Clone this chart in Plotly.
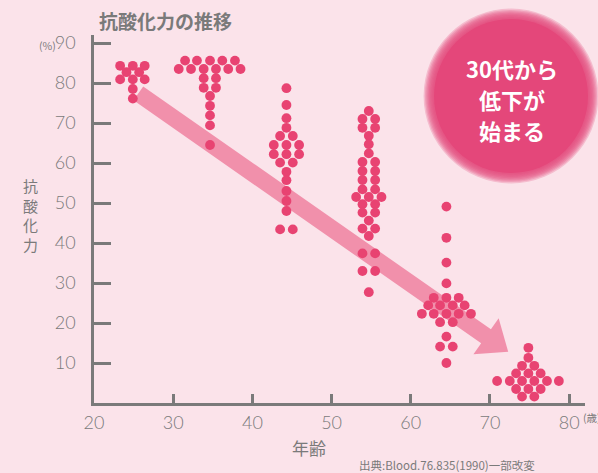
import math
import plotly.graph_objects as go

# ---------------- data (age, antioxidant capacity %) ----------------
age20s_x = [23.3, 24.9, 26.4, 24.1, 25.7, 23.3, 24.9, 26.4, 24.9, 24.9]
age20s_y = [84.3, 84.3, 84.3, 82.7, 82.7, 80.9, 80.9, 80.9, 78.5, 76.1]

age30s_x = [31.5, 33.0, 34.65, 36.2, 37.8,
            30.7, 32.25, 33.85, 35.4, 36.95, 38.5,
            33.85, 35.4, 33.85, 35.4,
            34.65, 34.65, 34.65, 34.65, 34.65]
age30s_y = [85.6, 85.6, 85.6, 85.6, 85.6,
            83.5, 83.5, 83.5, 83.5, 83.5, 83.5,
            81.2, 81.2, 78.8, 78.8,
            76.75, 74.3, 71.9, 69.4, 64.5]

age40s_x = [44.3, 44.3, 44.3, 44.3,
            43.5, 45.1,
            42.7, 44.3, 45.9,
            42.7, 44.3, 45.9,
            43.5, 45.1,
            44.3, 44.3, 44.3, 44.3, 44.3,
            43.5, 45.1]
age40s_y = [78.7, 74.5, 71.2, 68.8,
            66.75, 66.75,
            64.5, 64.5, 64.5,
            62.2, 62.2, 62.2,
            60.1, 60.1,
            57.8, 55.7, 53.0, 50.5, 48.0,
            43.4, 43.4]

age50s_x = [54.7, 53.9, 55.5, 53.9, 55.5, 54.7, 54.7, 54.7,
            53.9, 55.5, 53.9, 55.5, 53.9, 55.5, 53.9, 55.5,
            53.1, 54.7, 56.3,
            53.9, 55.5, 53.9, 55.5, 54.7, 53.9, 55.5, 54.7,
            53.9, 55.5, 53.9, 55.5, 54.7]
age50s_y = [73.0, 71.0, 71.0, 68.8, 68.8, 66.8, 64.7, 62.4,
            60.25, 60.25, 58.0, 58.0, 55.75, 55.75, 53.4, 53.4,
            51.5, 51.5, 51.5,
            49.7, 49.7, 47.6, 47.6, 45.6, 43.6, 43.6, 41.75,
            37.4, 37.4, 33.0, 33.0, 27.7]

age60s_x = [64.5, 64.5, 64.5, 64.5,
            62.9, 64.5, 66.05,
            62.2, 63.7, 65.3, 66.8,
            61.4, 62.9, 64.5, 66.05, 67.6,
            63.7, 65.3,
            64.5, 63.7, 65.3, 64.5]
age60s_y = [49.1, 41.3, 35.1, 29.9,
            26.3, 26.3, 26.3,
            24.4, 24.4, 24.4, 24.4,
            22.3, 22.3, 22.3, 22.3, 22.3,
            20.2, 20.2,
            16.6, 14.1, 14.1, 10.0]

age70s_x = [74.85, 74.85, 74.05, 75.6,
            73.3, 74.85, 76.4,
            70.9, 72.5, 74.05, 75.6, 77.2, 78.7,
            73.3, 74.85, 76.4,
            74.05, 75.6]
age70s_y = [13.8, 11.3, 9.3, 9.3,
            7.4, 7.4, 7.4,
            5.5, 5.5, 5.5, 5.5, 5.5, 5.5,
            3.5, 3.5, 3.5,
            1.6, 1.6]

x_ticks = [20, 30, 40, 50, 60, 70, 80]
y_ticks = [10, 20, 30, 40, 50, 60, 70, 80, 90]

# trend arrow (age, %)
arrow_start = (25.6, 77.4)
arrow_end = (72.3, 12.8)

# ---------------- style ----------------
W, H = 598, 473
ML, MR, MT, MB = 94, 13, 35, 70
X_RANGE = [20, 82]
Y_RANGE = [0, 92]
BG = "#fbe3ea"
DOT = "#e84372"
GRAY = "#7a7a7a"
CJK = "Noto Sans CJK JP"
NUM = "Lato, Noto Sans, sans-serif"

pw = W - ML - MR
ph = H - MT - MB
xs = pw / (X_RANGE[1] - X_RANGE[0])
ys = ph / (Y_RANGE[1] - Y_RANGE[0])


def px2paper(px, py):
    return (px - ML) / pw, (H - MB - py) / ph


fig = go.Figure()
for gx, gy in [(age20s_x, age20s_y), (age30s_x, age30s_y), (age40s_x, age40s_y),
               (age50s_x, age50s_y), (age60s_x, age60s_y), (age70s_x, age70s_y)]:
    fig.add_trace(go.Scatter(x=gx, y=gy, mode="markers", cliponaxis=False,
                             marker=dict(size=9.8, color=DOT, line=dict(width=0)),
                             hoverinfo="x+y", showlegend=False))

# arrow polygon computed in pixel space, expressed in data units
sx, sy = arrow_start[0] * xs, arrow_start[1] * ys
tx, ty = arrow_end[0] * xs, arrow_end[1] * ys
L = math.hypot(tx - sx, ty - sy)
dx, dy = (tx - sx) / L, (ty - sy) / L
nx, ny = -dy, dx
hw, HW, HL = 8.5, 22.0, 27.0
hx, hy = tx - dx * HL, ty - dy * HL
pts = [(sx + nx * hw, sy + ny * hw), (hx + nx * hw, hy + ny * hw),
       (hx + nx * HW, hy + ny * HW), (tx, ty),
       (hx - nx * HW, hy - ny * HW), (hx - nx * hw, hy - ny * hw),
       (sx - nx * hw, sy - ny * hw)]
path = "M " + " L ".join(f"{p[0]/xs:.4f},{p[1]/ys:.4f}" for p in pts) + " Z"

shapes = [dict(type="path", path=path, xref="x", yref="y", layer="above",
               fillcolor="rgba(232,67,114,0.52)", line=dict(width=0))]

# badge circle with soft edge
cx, cy = px2paper(511, 96)
core = 77
for i in range(8, 0, -1):
    r = core + i * 1.3
    shapes.append(dict(type="circle", xref="paper", yref="paper",
                       x0=cx - r / pw, x1=cx + r / pw, y0=cy - r / ph, y1=cy + r / ph,
                       fillcolor="#e4477a", opacity=0.25, line=dict(width=0), layer="below"))
shapes.append(dict(type="circle", xref="paper", yref="paper",
                   x0=cx - core / pw, x1=cx + core / pw, y0=cy - core / ph, y1=cy + core / ph,
                   fillcolor="#e4477a", opacity=1, line=dict(width=0), layer="below"))

ann = []


def text(px, py, s, size, color=GRAY, family=CJK, xanchor="center", weight="normal"):
    x, y = px2paper(px, py)
    ann.append(dict(x=x, y=y, xref="paper", yref="paper", text=s, showarrow=False,
                    xanchor=xanchor, yanchor="middle",
                    font=dict(size=size, color=color, family=family, weight=weight)))


text(97, 21, "抗酸化力の推移", 19, xanchor="left", weight="bold")
text(30, 215, "抗<br>酸<br>化<br>力", 15)
text(309, 447, "年齢", 17)
text(357, 465, "出典:Blood.76.835(1990)一部改変", 11.5, xanchor="left")
text(37, 45, "(%)", 10.5, xanchor="left")
text(581, 418, "(歳)", 10.5, xanchor="left")
text(512, 68, "30代から", 22, color="white", weight="bold")
text(512, 99, "低下が", 22, color="white", weight="bold")
text(512, 130, "始まる", 22, color="white", weight="bold")

fig.update_layout(
    width=W, height=H,
    margin=dict(l=ML, r=MR, t=MT, b=MB, autoexpand=False),
    paper_bgcolor=BG, plot_bgcolor=BG,
    shapes=shapes, annotations=ann, showlegend=False,
    xaxis=dict(range=X_RANGE, tickvals=x_ticks, ticks="inside", ticklen=9, tickwidth=2.5,
               tickcolor=GRAY, showline=True, linecolor=GRAY, linewidth=2.5,
               showgrid=False, zeroline=False, layer="below traces",
               tickfont=dict(size=18, color=GRAY, family=NUM, weight=300),
               ticklabelstandoff=2, fixedrange=True),
    yaxis=dict(range=Y_RANGE, tickvals=y_ticks, ticks="inside", ticklen=17, tickwidth=2.5,
               tickcolor=GRAY, showline=True, linecolor=GRAY, linewidth=2.5,
               showgrid=False, zeroline=False, layer="below traces",
               tickfont=dict(size=18, color=GRAY, family=NUM, weight=300),
               ticklabelstandoff=12, fixedrange=True),
)

fig.write_html("out.html", config={"displayModeBar": False},
               post_script="document.body.style.margin='0';document.body.style.overflow='hidden';")
